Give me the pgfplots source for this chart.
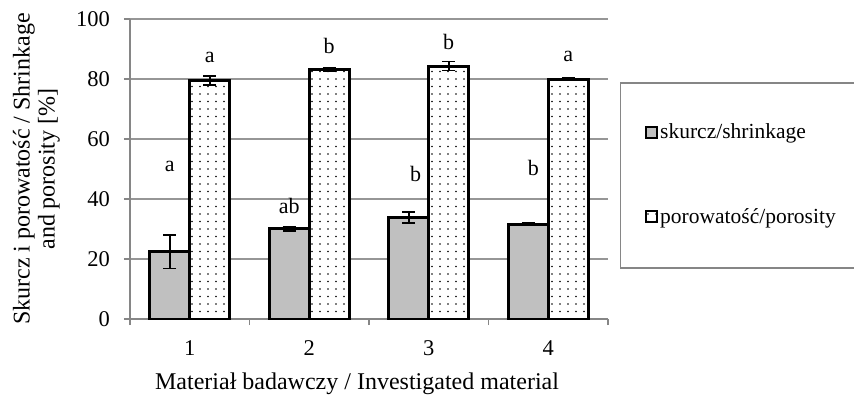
\documentclass[border=0pt]{standalone}
\usepackage{pgfplots}
\pgfplotsset{compat=1.18}
\usepackage{fontspec}
\setmainfont{Liberation Serif}
\usetikzlibrary{patterns}
\pgfdeclarepatternformonly{sparsedots}{\pgfqpoint{-1pt}{-1pt}}{\pgfqpoint{1pt}{1pt}}{\pgfqpoint{8pt}{7.5pt}}{\pgfpathcircle{\pgfqpoint{0pt}{0pt}}{0.85pt}\pgfusepath{fill}}
\definecolor{barg}{RGB}{192,192,192}
\definecolor{axg}{RGB}{134,134,134}
\definecolor{gridg}{RGB}{150,150,150}
\begin{document}
\begin{tikzpicture}
\path[use as bounding box] (-130pt,-75pt) rectangle (724pt,319pt);
\begin{axis}[
  scale only axis, width=478pt, height=300pt,
  xmin=0.5, xmax=4.5, ymin=0, ymax=100,
  axis lines=left, axis line style={axg, line width=1.2pt, -},
  ybar=0pt, bar width=40pt,
  ytick={0,20,...,100},
  ymajorgrids, grid style={gridg, line width=1.1pt},
  tick align=outside, major tick length=6pt,
  tick style={axg, line width=1.2pt},
  /pgf/number format/assume math mode=true,
  yticklabel style={font=\fontsize{22.5}{26}\selectfont, anchor=east, inner sep=0pt, xshift=-14pt},
  xtick={0.5,1.5,2.5,3.5,4.5}, xticklabels={},
  extra x ticks={1,2,3,4}, extra x tick labels={1,2,3,4},
  extra x tick style={major tick length=0pt, grid=none,
     tick label style={font=\fontsize{22.5}{26}\selectfont, anchor=base, inner sep=0pt, yshift=-36pt}},
  ylabel={Skurcz i porowatość / Shrinkage\\and porosity [\%]},
  ylabel style={at={(axis description cs:-0.196,0.5)}, anchor=center, align=center, rotate=0,
     font=\fontsize{24}{25}\selectfont},
  xlabel={Materiał badawczy / Investigated material},
  xlabel style={at={(axis description cs:0.475,0)}, anchor=base, yshift=-70pt,
     font=\fontsize{24}{28}\selectfont},
  error bars/error bar style={black, line width=1.7pt},
  error bars/error mark options={black, rotate=90, mark size=6.5pt, line width=1.7pt},
  legend image code/.code={\draw[#1, line width=2pt] (0pt,-5.5pt) rectangle (11pt,5.5pt);},
  legend style={draw=none, fill=none, at={(rel axis cs:1.0774,0.4825)}, anchor=west,
     inner sep=0pt, row sep=64pt, font=\fontsize{21.5}{24}\selectfont,
     cells={anchor=west}},
]
\addplot[draw=black, line width=3pt, fill=barg,
  error bars/.cd, y dir=both, y explicit]
  coordinates {(1,22.4) +- (0,5.6) (2,30.1) +- (0,0.7) (3,33.8) +- (0,1.9) (4,31.6) +- (0,0.4)};
\addlegendentry{skurcz/shrinkage}
\addplot[draw=black, line width=3pt, fill=white, postaction={pattern=sparsedots, pattern color=black},
  error bars/.cd, y dir=both, y explicit]
  coordinates {(1,79.4) +- (0,1.5) (2,83.2) +- (0,0.5) (3,84.3) +- (0,1.5) (4,79.9) +- (0,0.4)};
\addlegendentry{porowatość/porosity}
\begin{scope}[every node/.style={font=\fontsize{22}{24}\selectfont, inner sep=0pt, anchor=center}]
\node at (axis cs:0.833,50.9) {a};
\node at (axis cs:1.833,37.8) {ab};
\node at (axis cs:2.89,48.4) {b};
\node at (axis cs:3.875,50.2) {b};
\node at (axis cs:1.167,87.2) {a};
\node at (axis cs:2.167,91.1) {b};
\node at (axis cs:3.167,92.2) {b};
\node at (axis cs:4.167,87.4) {a};
\end{scope}
\end{axis}
\draw[axg, line width=1.2pt] (740pt,51pt) -- (490.7pt,51pt) -- (490.7pt,236pt) -- (740pt,236pt);
\end{tikzpicture}
\end{document}
